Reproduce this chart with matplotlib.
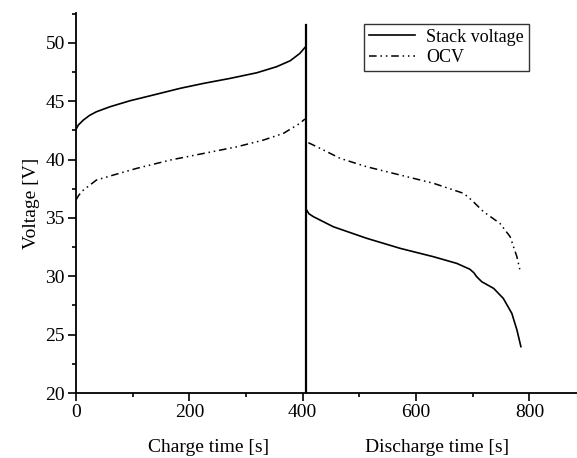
import matplotlib
matplotlib.use("Agg")
import matplotlib.pyplot as plt
from matplotlib.ticker import MultipleLocator

plt.rcParams['font.family'] = ['Liberation Serif', 'DejaVu Serif']

# Charge phase
charge_t = [0, 4, 13, 24, 36, 60, 95, 136, 184, 225, 272, 319, 354, 378, 395, 404]
charge_stack = [42.58, 42.95, 43.38, 43.78, 44.09, 44.52, 45.03, 45.52, 46.1, 46.52, 46.95, 47.43, 47.95, 48.46, 49.09, 49.6]
charge_ocv_t = [0, 5, 13, 36, 66, 107, 166, 225, 284, 331, 366, 395, 404]
charge_ocv = [36.53, 36.95, 37.38, 38.24, 38.67, 39.24, 39.95, 40.52, 41.09, 41.67, 42.24, 43.1, 43.47]

# Discharge phase
dis_t = [407, 411, 419, 454, 513, 572, 631, 672, 695, 702, 707, 716, 737, 754, 769, 778, 785]
dis_stack = [35.67, 35.35, 35.1, 34.24, 33.25, 32.39, 31.67, 31.1, 30.6, 30.3, 29.96, 29.53, 28.96, 28.1, 26.82, 25.4, 23.97]
dis_ocv_t = [410, 431, 466, 513, 572, 631, 684, 698, 719, 748, 766, 778, 783]
dis_ocv = [41.44, 40.95, 40.1, 39.38, 38.67, 37.96, 37.1, 36.53, 35.53, 34.53, 33.39, 31.67, 30.6]

switch_t = 406
x_ticks = [0, 200, 400, 600, 800]
y_ticks = [20, 25, 30, 35, 40, 45, 50]

fig = plt.figure(figsize=(5.77, 4.58), dpi=100)
ax = fig.add_axes([76/577, 65/458, 1 - 76/577, (393-13)/458])

ocv_style = (0, (5, 2.5, 1, 2.5, 1, 2.5))
l1, = ax.plot(charge_t, charge_stack, color='black', lw=1.2, label='Stack voltage')
ax.plot(dis_t, dis_stack, color='black', lw=1.2)
l2, = ax.plot(charge_ocv_t, charge_ocv, color='black', lw=1.1, linestyle=ocv_style, label='OCV')
ax.plot(dis_ocv_t, dis_ocv, color='black', lw=1.1, linestyle=ocv_style)
ax.plot([switch_t, switch_t], [20, 51.5], color='black', lw=1.6)

ax.set_xlim(0, 884)
ax.set_ylim(20, 52.55)
ax.set_xticks(x_ticks)
ax.set_yticks(y_ticks)
ax.xaxis.set_minor_locator(MultipleLocator(100))
ax.yaxis.set_minor_locator(MultipleLocator(2.5))
ax.tick_params(which='major', direction='out', length=6, width=1.2, labelsize=14, pad=2)
ax.tick_params(which='minor', direction='out', length=3, width=1.2)
for s in ['top', 'right']:
    ax.spines[s].set_visible(False)
for s in ['left', 'bottom']:
    ax.spines[s].set_linewidth(1.3)

ax.set_ylabel('Voltage [V]', fontsize=14, labelpad=4)
fig.text(209/577, 1 - 448/458, 'Charge time [s]', fontsize=14, ha='center', va='center')
fig.text(437/577, 1 - 448/458, 'Discharge time [s]', fontsize=14, ha='center', va='center')

leg = ax.legend(handles=[l1, l2], loc='upper left', bbox_to_anchor=(364/577, 1 - 24/458),
                bbox_transform=fig.transFigure, fontsize=13, frameon=True, fancybox=False,
                edgecolor='black', handlelength=2.6, handletextpad=0.6, borderpad=0.25,
                labelspacing=0.2, borderaxespad=0)
leg.get_frame().set_linewidth(1.0)

fig.savefig('out.png', dpi=100)
